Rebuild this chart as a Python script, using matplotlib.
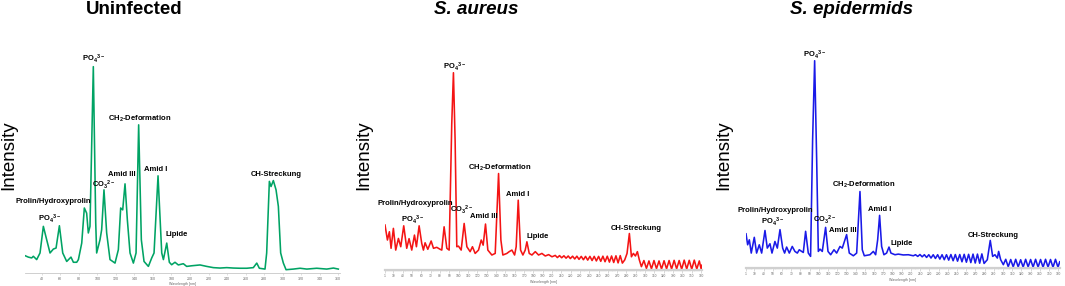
import matplotlib
matplotlib.use("Agg")
import matplotlib.pyplot as plt
import numpy as np

plt.rcParams['font.family'] = ['Liberation Sans', 'DejaVu Sans']
plt.rcParams['mathtext.fontset'] = 'custom'
plt.rcParams['mathtext.rm'] = 'Liberation Sans:bold'
plt.rcParams['mathtext.it'] = 'Liberation Sans:bold:italic'
plt.rcParams['mathtext.bf'] = 'Liberation Sans:bold'

W, H = 1065, 286

# ---- spectra (x in axis units, intensity in % of main PO4 peak) ----
x_uninf = [22.0, 25.6, 29.2, 31.0, 34.6, 38.2, 41.8, 45.4, 49.0, 52.6, 55.5, 59.1,
           62.7, 67.0, 71.6, 74.2, 77.8, 79.6, 83.2, 86.0, 88.5, 90.3, 92.1, 95.7,
           98.3, 99.3, 102.9, 104.7, 107.2, 110.1, 113.7, 116.6, 119.1, 122.7, 125.2,
           127.4, 129.9, 132.4, 135.3, 138.9, 141.8, 144.6, 147.5, 150.4, 155.1, 158.7,
           161.2, 165.5, 169.5, 171.3, 174.9, 177.7, 180.2, 183.8, 187.4, 192.8, 196.4,
           201.8, 210.8, 218.0, 225.2, 232.4, 239.6, 246.8, 254.0, 261.2, 268.3, 272.0,
           274.8, 280.9, 282.7, 285.6, 287.4, 289.9, 292.8, 295.3, 297.8, 300.7, 303.6,
           311.5, 318.7, 326.0, 336.7, 347.5, 354.7, 360.0]
y_uninf = [8.4, 7.7, 7.3, 8.1, 6.5, 9.7, 22.6, 16.1, 9.7, 11.6, 12.1, 22.9,
           9.7, 5.6, 7.7, 5.2, 5.2, 6.5, 14.5, 31.5, 29.0, 19.4, 22.6, 100.0,
           24.2, 9.7, 16.1, 21.0, 40.3, 19.4, 6.5, 5.6, 4.8, 11.3, 31.5,
           30.6, 43.2, 25.8, 9.7, 4.8, 9.7, 71.8, 16.1, 5.6, 3.2, 7.3,
           9.7, 47.1, 9.7, 6.5, 14.5, 5.2, 4.0, 5.2, 3.9, 4.5, 3.2,
           3.5, 3.9, 3.2, 2.6, 2.4, 2.6, 2.4, 2.3, 2.3, 2.6, 4.8,
           2.3, 1.9, 9.7, 44.4, 41.9, 44.8, 40.3, 32.3, 9.7, 4.8, 1.6,
           1.9, 2.3, 1.9, 2.3, 1.9, 2.4, 1.9]

x_aureus = [21.0, 23.6, 25.7, 27.5, 30.0, 32.5, 35.4, 37.9, 41.1, 44.3, 46.8, 49.7,
            52.6, 54.7, 57.6, 60.4, 62.2, 64.0, 66.9, 70.5, 73.0, 76.5, 80.1, 81.9,
            84.4, 87.3, 89.8, 92.6, 94.4, 96.2, 98.0, 99.8, 102.7, 105.9, 108.8,
            112.3, 114.8, 117.7, 121.3, 124.2, 126.3, 128.8, 131.3, 135.6, 139.2,
            142.8, 145.3, 147.4, 151.7, 154.2, 157.1, 160.0, 161.7, 163.9, 166.4,
            168.9, 171.4, 173.2, 175.7, 178.6, 182.2, 185.7, 189.3, 192.9, 196.5,
            200.1, 203.6, 205.9, 208.2, 210.5, 212.9, 215.2, 217.5, 219.8, 222.2,
            224.5, 226.8, 229.1, 231.5, 233.8, 236.1, 238.4, 240.8, 243.1, 245.4,
            247.7, 250.1, 252.4, 254.7, 257.0, 259.4, 261.7, 264.0, 266.3, 268.7,
            271.0, 273.3, 275.6, 278.1, 280.6, 283.1, 285.3, 287.4, 289.6, 291.7,
            293.8, 296.0, 298.7, 301.4, 304.1, 306.8, 309.5, 312.2, 314.9, 317.6,
            320.3, 323.0, 325.7, 328.4, 331.1, 333.8, 336.5, 339.2, 341.9, 344.6,
            347.3, 350.0, 352.7, 355.4, 358.1, 360.2, 361.0]
y_aureus = [22.8, 15.2, 19.4, 11.0, 21.1, 10.1, 16.0, 11.8, 22.4, 11.0, 15.9, 10.1,
            17.7, 11.8, 22.4, 13.5, 10.1, 13.8, 10.5, 14.7, 11.0, 11.5, 10.5, 10.1,
            21.9, 11.0, 10.1, 74.2, 100.0, 65.8, 11.8, 12.1, 10.1, 23.6, 11.8,
            9.3, 11.8, 8.4, 10.1, 15.2, 12.6, 23.3, 10.1, 7.6, 8.4,
            48.9, 15.2, 7.6, 8.4, 9.3, 10.1, 7.6, 11.8, 35.4, 10.1,
            7.6, 10.1, 14.3, 8.4, 7.6, 9.3, 7.6, 8.4, 7.1, 7.8,
            6.7, 7.4, 6.3, 7.3, 6.2, 7.2, 6.0, 7.1, 5.8, 7.0,
            5.6, 7.0, 5.4, 6.9, 5.2, 6.9, 5.0, 6.9, 4.8, 6.9,
            4.6, 6.9, 4.4, 7.0, 4.2, 7.0, 4.0, 7.1, 3.8, 7.2,
            3.6, 7.3, 3.5, 5.1, 8.4, 18.5, 6.7, 8.4, 7.1, 9.3,
            5.1, 1.7, 4.8, 0.8, 4.6, 0.6, 4.8, 0.7, 4.6, 0.5,
            4.7, 0.6, 4.8, 0.5, 4.9, 0.6, 4.8, 0.4, 5.0, 0.5,
            4.9, 0.4, 5.0, 0.5, 4.6, 0.3, 2.5]

x_epi = [21.0, 22.8, 24.6, 26.7, 30.0, 32.5, 35.4, 38.0, 41.6, 44.1, 47.0, 49.2,
         52.4, 55.0, 57.9, 60.8, 62.9, 65.1, 68.0, 71.2, 74.1, 76.7, 78.8, 81.4,
         83.2, 85.7, 88.6, 91.1, 93.3, 95.5, 97.7, 99.5, 101.3, 103.8, 107.4,
         110.0, 112.9, 116.5, 119.4, 123.0, 125.5, 130.2, 133.1, 137.5, 141.1,
         144.7, 147.2, 149.4, 155.5, 159.2, 161.7, 163.9, 166.0, 168.2, 170.7,
         173.6, 176.2, 178.3, 182.7, 186.3, 191.7, 197.2, 202.6, 205.0, 207.4,
         209.8, 212.2, 214.6, 217.0, 219.4, 221.8, 224.2, 226.6, 229.0, 231.4,
         233.8, 236.2, 238.6, 241.0, 243.4, 245.8, 248.2, 250.6, 253.0, 255.4,
         257.8, 260.2, 262.6, 265.0, 267.4, 269.8, 272.2, 274.6, 277.0, 279.4,
         282.9, 286.1, 288.7, 291.2, 293.8, 295.2, 297.4, 300.3, 302.9, 305.6,
         308.3, 311.0, 313.7, 316.4, 319.1, 321.8, 324.5, 327.2, 329.9, 332.6,
         335.3, 338.0, 340.7, 343.4, 346.1, 348.8, 351.5, 354.2, 356.9, 359.6, 361.5]
y_epi = [16.5, 11.2, 13.6, 7.2, 14.8, 7.2, 11.2, 7.2, 18.1, 9.6, 11.7, 7.2,
         12.8, 9.6, 18.5, 9.6, 7.2, 10.1, 7.2, 10.4, 8.0, 7.2, 8.8, 8.0,
         7.5, 17.7, 7.2, 5.6, 61.8, 100.0, 52.2, 8.0, 9.1, 8.0, 19.6,
         8.0, 6.4, 8.8, 7.2, 10.4, 9.6, 16.1, 7.2, 5.9, 7.2,
         36.9, 8.8, 5.9, 6.4, 8.0, 6.4, 13.6, 25.4, 10.4, 6.4,
         7.2, 10.1, 7.2, 6.4, 6.7, 6.3, 6.4, 5.9, 6.4, 5.6,
         6.5, 5.4, 6.4, 5.1, 6.4, 4.8, 6.4, 4.6, 6.4, 4.3,
         6.4, 4.0, 6.4, 3.8, 6.5, 3.5, 6.5, 3.3, 6.5, 3.0,
         6.6, 2.8, 6.6, 2.6, 6.7, 2.4, 6.7, 2.3, 6.8, 2.2,
         4.0, 13.3, 5.6, 6.4, 4.8, 8.0, 4.0, 1.6, 4.2, 0.6,
         4.1, 0.5, 4.2, 0.5, 4.0, 0.4, 4.2, 0.5, 4.1, 0.4,
         4.2, 0.4, 4.1, 0.3, 4.2, 0.4, 4.1, 0.3, 4.2, 0.3, 3.0]

# ---- peak labels ----
peak_names = ["PO$_4$$^{3-}$", "Prolin/Hydroxyprolin", "PO$_4$$^{3-}$", "CO$_3$$^{2-}$",
              "Amid III", "CH$_2$-Deformation", "Amid I", "Lipide", "CH-Streckung"]
lab_x_uninf = [95.7, 52.6, 49.0, 106.5, 126.0, 146.0, 163.0, 186.0, 293.0]
lab_y_uninf = [104.0, 34.7, 26.3, 42.7, 47.6, 74.7, 50.3, 18.5, 47.6]
lab_x_aureus = [95.5, 53.3, 50.4, 103.8, 127.0, 143.5, 163.5, 185.0, 290.6]
lab_y_aureus = [102.9, 33.7, 25.6, 30.4, 27.0, 52.0, 38.3, 16.9, 21.0]
lab_x_epi = [95.8, 52.4, 49.5, 106.7, 126.6, 148.3, 165.7, 190.0, 289.4]
lab_y_epi = [102.7, 27.8, 22.2, 23.3, 18.0, 40.1, 28.4, 12.0, 15.6]

ticks_uninf = list(range(40, 361, 20))
ticks_bact = [21] + list(range(30, 361, 10))
ticklabels_bact = ["1"] + [str(t) for t in range(30, 361, 10)]

titles = ["Uninfected", "S. aureus", "S. epidermids"]
colors = ["#00a364", "#f41414", "#1a1ae8"]

# panel geometry in pixels: left, right, bottom, top(at y=110)
panels = [
    dict(l=25, r=340, b=273, t=46, x=x_uninf, y=y_uninf, lx=lab_x_uninf, ly=lab_y_uninf,
         title_x=134, ylab_x=9, xlim=(22, 361.8)),
    dict(l=385, r=702, b=270, t=53, x=x_aureus, y=y_aureus, lx=lab_x_aureus, ly=lab_y_aureus,
         title_x=476, ylab_x=364, xlim=(21, 361)),
    dict(l=746, r=1060, b=268, t=40, x=x_epi, y=y_epi, lx=lab_x_epi, ly=lab_y_epi,
         title_x=852, ylab_x=724, xlim=(21, 361.8)),
]

fig = plt.figure(figsize=(W / 100, H / 100), dpi=100)

for i, p in enumerate(panels):
    ax = fig.add_axes([p["l"] / W, (H - p["b"]) / H, (p["r"] - p["l"]) / W, (p["b"] - p["t"]) / H])
    ax.plot(p["x"], p["y"], color=colors[i], lw=1.15, solid_joinstyle="round")
    ax.set_xlim(*p["xlim"])
    ax.set_ylim(0, 110)
    for s in ["left", "top", "right"]:
        ax.spines[s].set_visible(False)
    ax.set_yticks([])
    if i == 0:
        ax.spines["bottom"].set_color("#c8c8c8")
        ax.spines["bottom"].set_linewidth(0.6)
        ax.set_xticks(ticks_uninf)
        ax.tick_params(axis="x", length=1.5, width=0.4, color="#c8c8c8",
                       labelsize=2.6, labelcolor="#666666", pad=1.5)
    else:
        ax.spines["bottom"].set_color("#d0d0d0")
        ax.spines["bottom"].set_linewidth(1.6)
        ax.set_xticks(ticks_bact)
        ax.set_xticklabels(ticklabels_bact)
        ax.set_xticks(np.arange(22, 361, 2), minor=True)
        ax.tick_params(axis="x", which="major", length=2, width=0.4, color="#bbbbbb",
                       labelsize=2.3, labelcolor="#666666", pad=1.2)
        ax.tick_params(axis="x", which="minor", length=1.2, width=0.3, color="#cccccc")
    ax.set_xlabel("Wavelength [nm]", fontsize=2.6, color="#666666", labelpad=0.8)

    for name, tx, ty in zip(peak_names, p["lx"], p["ly"]):
        ax.text(tx, ty, name, fontsize=5.5, fontweight="bold", ha="center", va="center")

    style = "normal" if i == 0 else "italic"
    fig.text(p["title_x"] / W, 1 - 10 / H, titles[i], fontsize=13.5, fontweight="bold",
             style=style, ha="center", va="center")
    fig.text(p["ylab_x"] / W, 1 - 155 / H, "Intensity", fontsize=13.5, rotation=90,
             ha="center", va="center")

fig.savefig("out.png", dpi=100)
